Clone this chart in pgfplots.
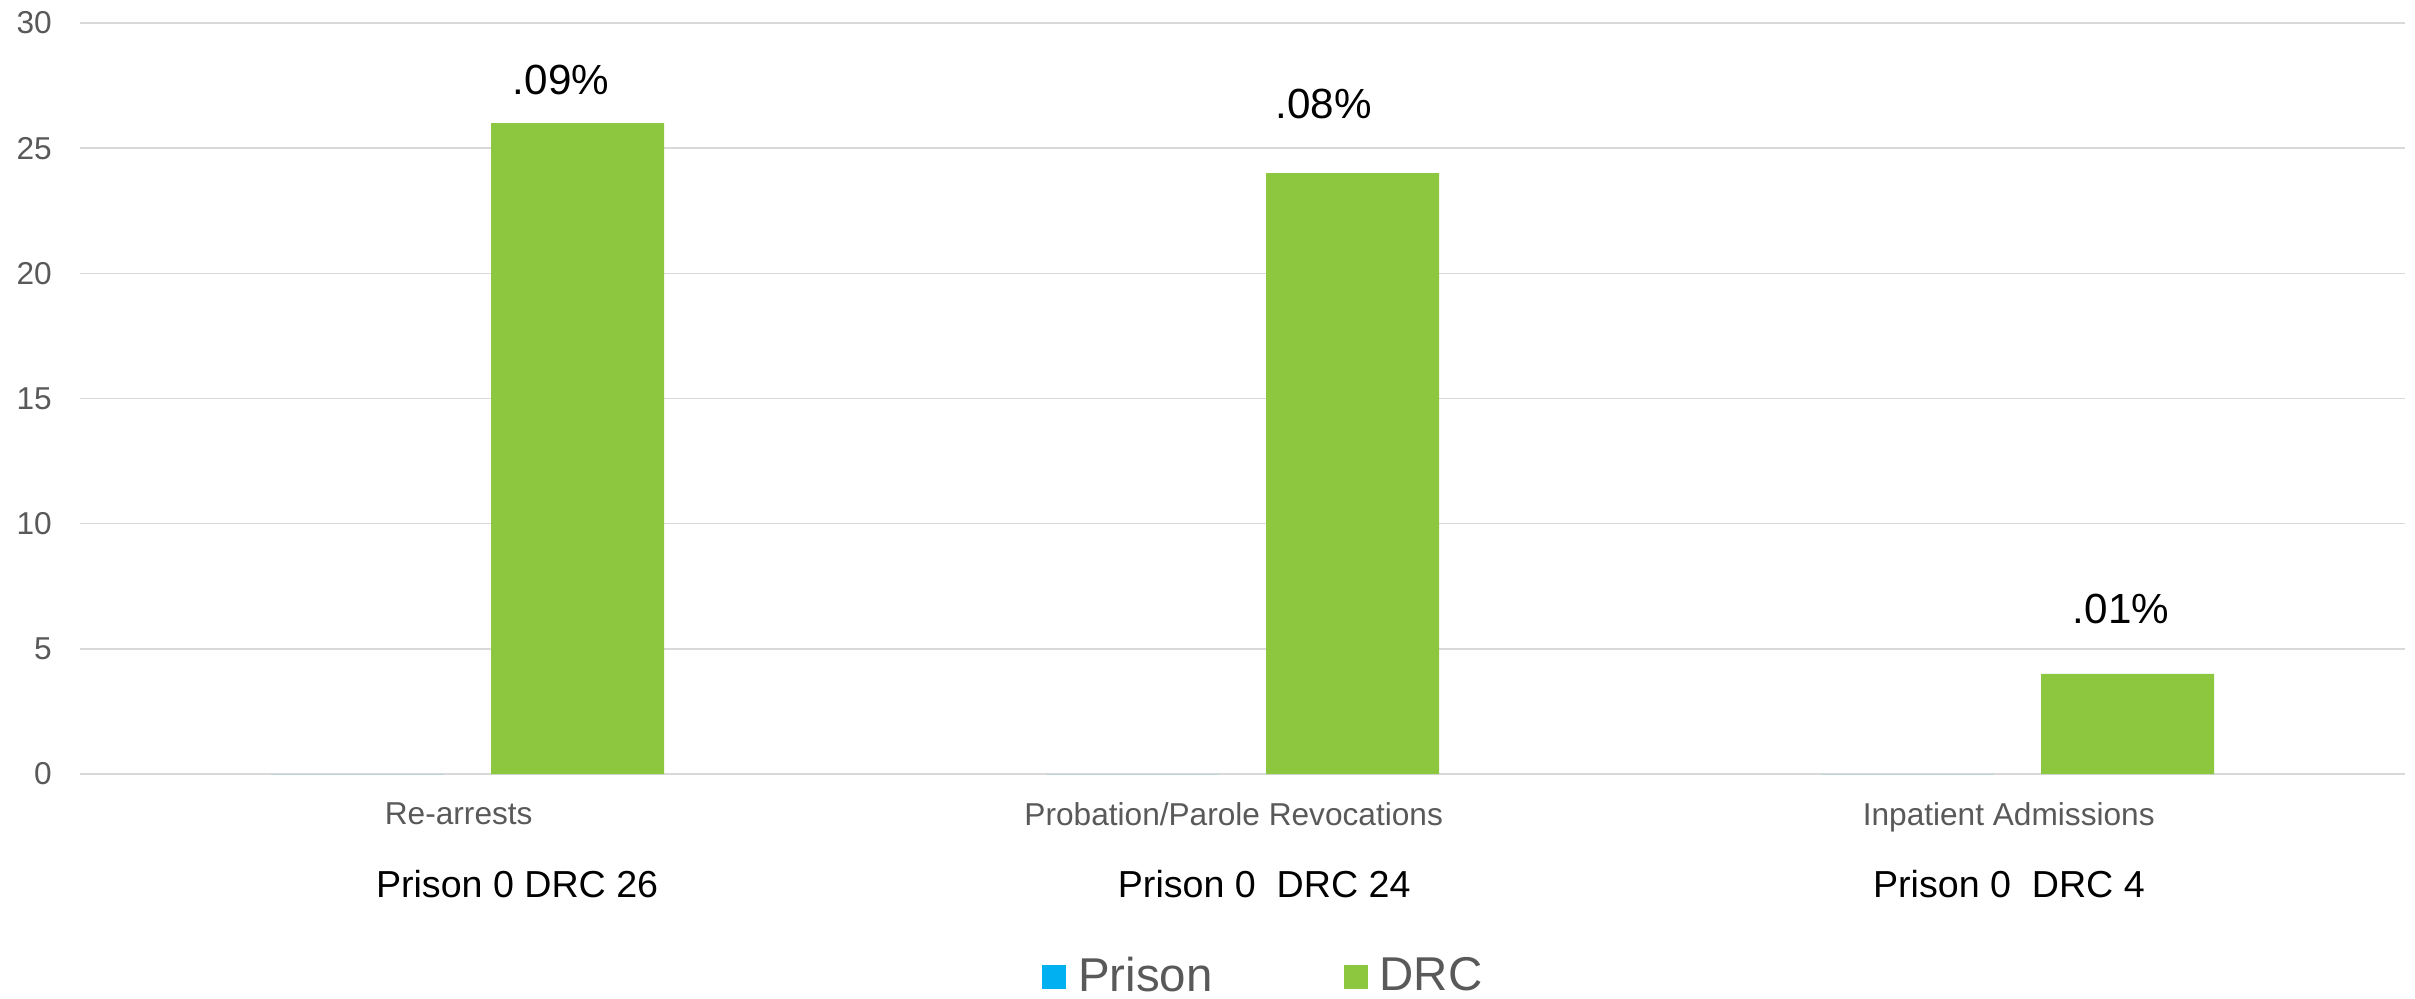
\documentclass[border=0pt]{standalone}
\usepackage{fontspec}
\setmainfont{Liberation Sans}
\usepackage{pgfplots}
\pgfplotsset{compat=1.18}
\definecolor{prisonblue}{HTML}{00B0F0}
\definecolor{drcgreen}{HTML}{8DC63F}
\definecolor{axgray}{HTML}{595959}
\definecolor{gridgray}{HTML}{D9D9D9}

\begin{document}
\begin{tikzpicture}
\path[use as bounding box] (0,0) rectangle (241.5mm,99.8mm);
\begin{axis}[
  at={(8mm,22.4mm)}, anchor=south west,
  scale only axis, width=232.5mm, height=75.1mm,
  ybar=4.7mm, bar width=17.3mm,
  xmin=-0.5, xmax=2.5, ymin=0, ymax=30,
  xtick={0,1,2},
  xticklabels={Re-arrests, Probation/Parole Revocations, Inpatient Admissions},
  ytick={0,5,...,30},
  ymajorgrids, grid style={gridgray, line width=0.45pt},
  axis line style={draw=none},
  major tick length=0pt, tick style={draw=none},
  yticklabel style={font=\fontsize{9}{10.8}\selectfont, text=axgray, xshift=-4.5pt},
  xticklabel style={font=\fontsize{9}{10.8}\selectfont, text=axgray, yshift=-4.5pt, xshift=-2.5pt},
  /pgf/number format/assume math mode=true,
  clip=false,
  legend style={at={(0.510,-0.27)}, anchor=center, draw=none, fill=none,
    legend columns=2, font=\fontsize{13.5}{16}\selectfont, text=axgray,
    /tikz/every odd column/.append style={column sep=0.5mm},
    /tikz/every even column/.append style={column sep=12.4mm}},
  legend image code/.code={\fill (0mm,-1.2mm) rectangle (2.4mm,1.2mm);},
]
% Prison: all zero
\addplot[fill=prisonblue, draw=none] coordinates {(0,0) (1,0) (2,0)};
% DRC
\addplot[fill=drcgreen, draw=none] coordinates {(0,26) (1,24) (2,4)};
\legend{Prison, DRC}
% percent labels above the DRC bars
\node[anchor=base, font=\fontsize{12}{14.4}\selectfont] at (axis cs:0.1206,27.13) {.09\%};
\node[anchor=base, font=\fontsize{12}{14.4}\selectfont] at (axis cs:1.105,26.17) {.08\%};
\node[anchor=base, font=\fontsize{12}{14.4}\selectfont] at (axis cs:2.1335,6.03) {.01\%};
% counts under the categories
\node[anchor=base, font=\fontsize{10.7}{12.8}\selectfont] at (axis cs:0.064,-4.95) {Prison 0 DRC 26};
\node[anchor=base, font=\fontsize{10.7}{12.8}\selectfont] at (axis cs:1.028,-4.95) {Prison 0\ \ DRC 24};
\node[anchor=base, font=\fontsize{10.7}{12.8}\selectfont] at (axis cs:1.989,-4.95) {Prison 0\ \ DRC 4};
\end{axis}
\end{tikzpicture}
\end{document}
